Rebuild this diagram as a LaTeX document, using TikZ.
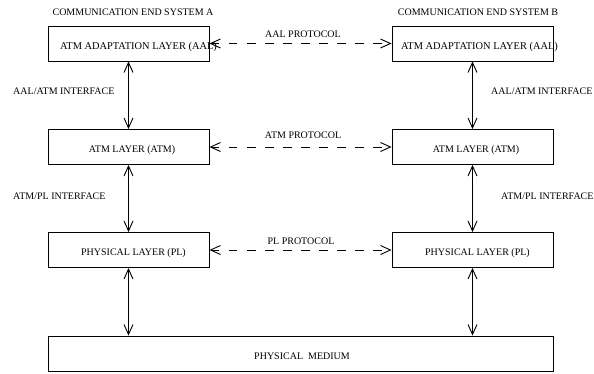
\documentclass[tikz,border=0pt]{standalone}
\usepackage{fontspec}
\setmainfont{Liberation Serif}
\usetikzlibrary{arrows.meta}
\begin{document}
\begin{tikzpicture}[x=1pt,y=-1pt,
  layer/.style={draw,line width=0.9pt,minimum width=161pt,minimum height=35pt,inner sep=0pt},
  lbl/.style={font=\fontsize{10}{12}\selectfont,inner sep=0pt},
  wide/.style={font=\fontsize{10.4}{12}\selectfont,inner sep=0pt},
  tip/.style={{Straight Barb[length=10pt,width=9pt,line width=0.9pt]}-{Straight Barb[length=10pt,width=9pt,line width=0.9pt]}},
  iface/.style={tip,line width=0.9pt},
  proto/.style={tip,line width=0.9pt,dash pattern=on 8.5pt off 9.5pt}]
\useasboundingbox (0,0) rectangle (594,373);
\node[layer] (a1) at (128.5,43.5) {};
\node[layer] (a2) at (128.5,147) {};
\node[layer] (a3) at (128.5,250) {};
\node[layer] (b1) at (472.5,43.5) {};
\node[layer] (b2) at (472.5,147) {};
\node[layer] (b3) at (472.5,250) {};
\node[layer,minimum width=505pt] (pm) at (300.5,353.5) {};
\node[wide] (a1t) at ([shift={(10,3.5)}]a1.center) {ATM ADAPTATION LAYER (AAL)};
\node[lbl] (a2t) at ([shift={(3.5,3.5)}]a2.center) {ATM LAYER (ATM)};
\node[lbl] (a3t) at ([shift={(5,3.5)}]a3.center) {PHYSICAL LAYER (PL)};
\node[wide] (b1t) at ([shift={(7,3.5)}]b1.center) {ATM ADAPTATION LAYER (AAL)};
\node[lbl] (b2t) at ([shift={(3.5,3.5)}]b2.center) {ATM LAYER (ATM)};
\node[lbl] (b3t) at ([shift={(5,3.5)}]b3.center) {PHYSICAL LAYER (PL)};
\node[lbl] (pmt) at ([shift={(1.5,2.5)}]pm.center) {PHYSICAL\ \ MEDIUM};
\node[lbl] (ta) at (133,12) {COMMUNICATION END SYSTEM A};
\node[lbl] (tb) at (478,12) {COMMUNICATION END SYSTEM B};
\node[lbl] (p1) at (303,34) {AAL PROTOCOL};
\node[lbl] (p2) at (303,135) {ATM PROTOCOL};
\node[lbl] (p3) at (301,241) {PL PROTOCOL};
\node[lbl,anchor=west] (i1) at (13,91) {AAL/ATM INTERFACE};
\node[lbl,anchor=west] (i2) at (491,91) {AAL/ATM INTERFACE};
\node[lbl,anchor=west] (i3) at (13,196) {ATM/PL INTERFACE};
\node[lbl,anchor=west] (i4) at (501,196) {ATM/PL INTERFACE};
\draw[proto] (a1.east) -- (b1.west);
\draw[proto] (a2.east) -- (b2.west);
\draw[proto] (a3.east) -- (b3.west);
\draw[iface] (a1.south) -- (a2.north);
\draw[iface] (a2.south) -- (a3.north);
\draw[iface] (b1.south) -- (b2.north);
\draw[iface] (b2.south) -- (b3.north);
\draw[iface] (a3.south) -- (a3.south |- pm.north);
\draw[iface] (b3.south) -- (b3.south |- pm.north);
\end{tikzpicture}
\end{document}
